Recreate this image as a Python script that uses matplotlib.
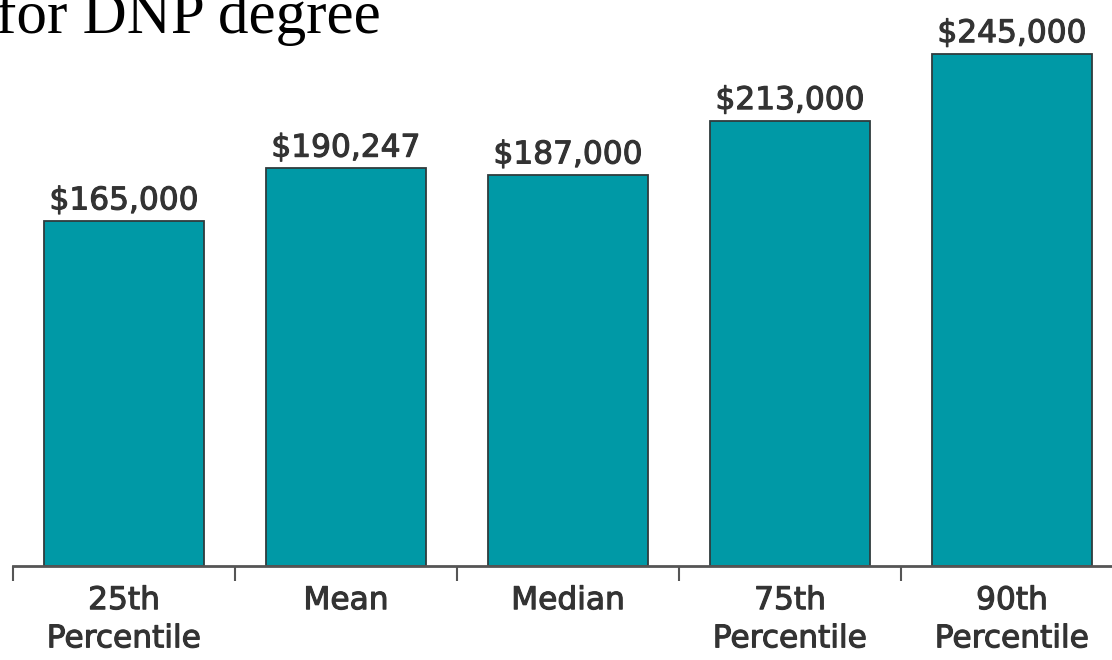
import matplotlib
matplotlib.use("Agg")
import matplotlib.pyplot as plt
import matplotlib.patheffects as pe
import numpy as np

categories = ["25th\nPercentile", "Mean", "Median", "75th\nPercentile", "90th\nPercentile"]
values = [165000, 190247, 187000, 213000, 245000]
value_labels = ["$165,000", "$190,247", "$187,000", "$213,000", "$245,000"]
title_text = "for DNP degree"

W, H = 1112, 660
fig = plt.figure(figsize=(W / 100, H / 100), dpi=100)

left_px, right_px = 13, 1123
base_px = 566
ax = fig.add_axes([left_px / W, (H - base_px) / H, (right_px - left_px) / W, base_px / H])

x = np.arange(len(values))
ax.bar(x, values, width=0.72, color="#0099A6", edgecolor="#2f3b3d", linewidth=1.3, zorder=2)
ax.set_xlim(-0.5, 4.5)
ax.set_ylim(0, 270700)

thick = [pe.withStroke(linewidth=0.8, foreground="#333333")]
for xi, v, lab in zip(x, values, value_labels):
    ax.annotate(lab, (xi, v), xytext=(0, 4), textcoords="offset points",
                ha="center", va="bottom", fontsize=22.5, color="#333333",
                family="DejaVu Sans", path_effects=thick)

for s in ["top", "right", "left"]:
    ax.spines[s].set_visible(False)
ax.spines["bottom"].set_color("#555555")
ax.spines["bottom"].set_linewidth(2)
ax.set_yticks([])

ax.set_xticks(x)
ax.set_xticklabels(categories, fontsize=22.5, color="#333333", family="DejaVu Sans",
                   linespacing=1.4)
for t in ax.get_xticklabels():
    t.set_path_effects(thick)
ax.tick_params(axis="x", which="major", length=0, pad=14.5)
ax.set_xticks(np.arange(-0.5, 5.0, 1.0), minor=True)
ax.tick_params(axis="x", which="minor", length=11, width=1.5, color="#555555")

fig.text(-4 / W, (H - 33) / H, title_text, fontsize=44, family="Liberation Serif",
         color="black", ha="left", va="baseline")

fig.savefig("out.png", dpi=100)
